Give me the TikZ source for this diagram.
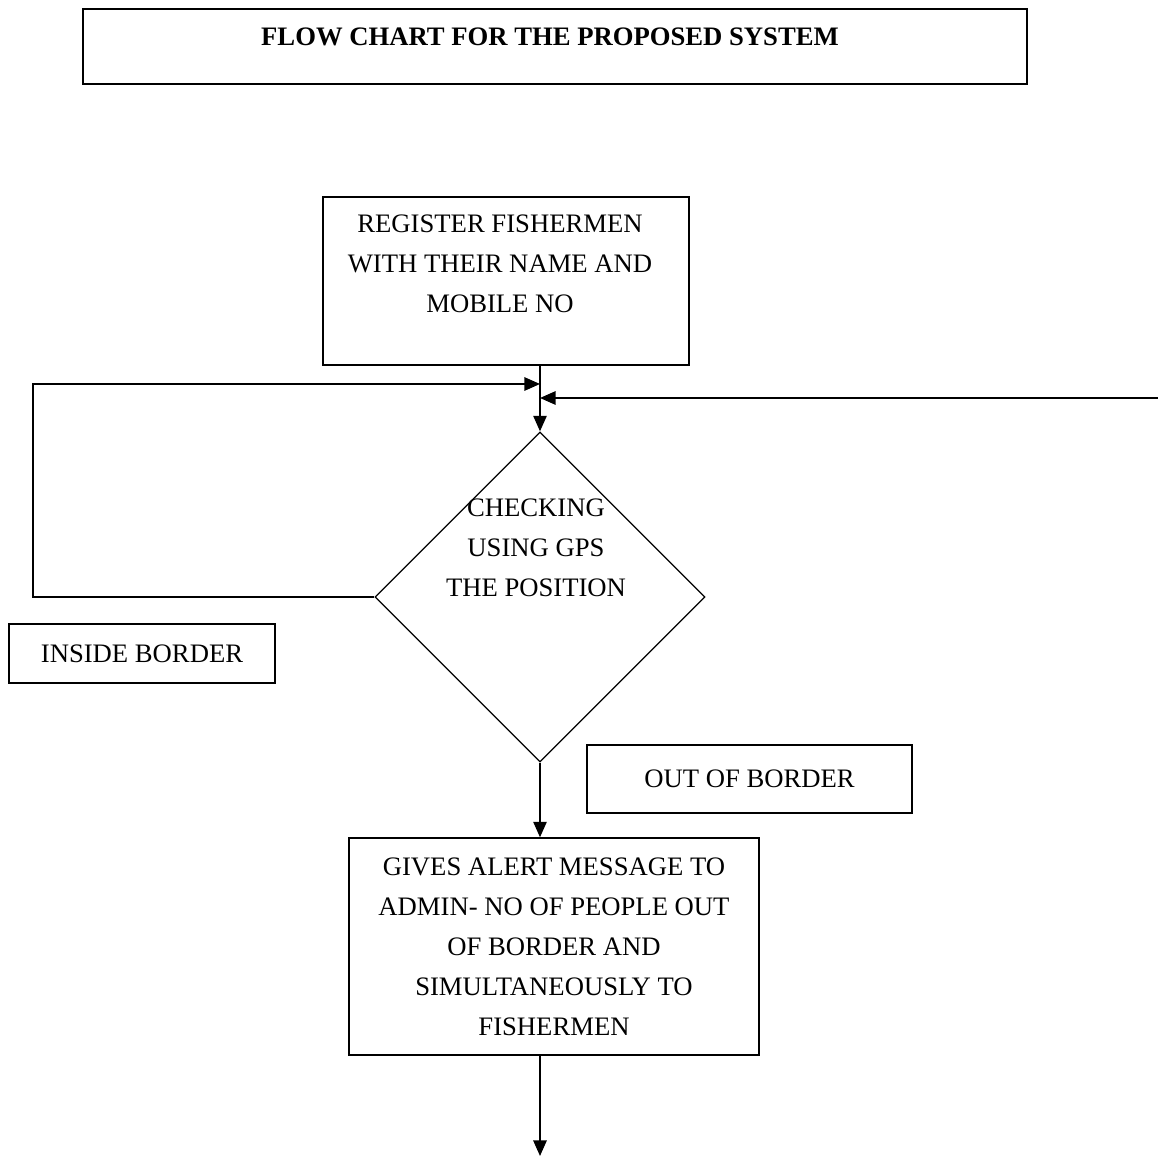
\documentclass[tikz,border=0pt]{standalone}
\usepackage{fontspec}
\setmainfont{Liberation Serif}
\usetikzlibrary{shapes.geometric,arrows.meta}
\newcommand{\px}{0.45pt}

\begin{document}
\begin{tikzpicture}[x=\px, y=-\px, >={Triangle[length=7pt,width=6pt]}]
  \tikzset{box/.style={draw, line width=0.6pt, inner sep=0pt, font=\fontsize{12pt}{18pt}\selectfont, align=center}}
  \tikzset{decision/.style={draw, diamond, aspect=1, line width=0.6pt, inner sep=0pt, minimum width=330*\px, minimum height=330*\px}}
  \tikzset{txt/.style={inner sep=0pt, font=\fontsize{12pt}{18pt}\selectfont, align=center}}
  \tikzset{flow/.style={->, line width=0.8pt}}
  \useasboundingbox (0,0) rectangle (1158,1156);
  \node[box, line width=0.8pt, minimum width=944*\px, minimum height=75*\px] (title) at (555,46.5) {};
  \node[txt, font=\fontsize{12pt}{18pt}\selectfont\bfseries] (titletext) at (550,37) {FLOW CHART FOR THE PROPOSED SYSTEM};
  \node[box, minimum width=366*\px, minimum height=168*\px] (register) at (506,281) {};
  \node[txt] (registertext) at (500,264) {REGISTER FISHERMEN\\WITH THEIR NAME AND\\MOBILE NO};
  \node[decision] (check) at (540,597) {};
  \node[txt] (checktext) at (536,548) {CHECKING\\USING GPS\\THE POSITION};
  \node[box, minimum width=266*\px, minimum height=59*\px] (inside) at (142,653.5) {INSIDE BORDER};
  \node[box, minimum width=325*\px, minimum height=68*\px] (outside) at (749.5,779) {OUT OF BORDER};
  \node[box, minimum width=410*\px, minimum height=217*\px] (alert) at (554,946.5) {GIVES ALERT MESSAGE TO\\ADMIN- NO OF PEOPLE OUT\\OF BORDER AND\\SIMULTANEOUSLY TO\\FISHERMEN};
  \coordinate (loopleft) at (33,384);
  \coordinate (loopright) at (1158,398);
  \coordinate (exit) at (540,1156);
  \draw[flow] (register.south -| check.north) -- (check.north);
  \draw[flow] (check.west) -| (loopleft) -- (loopleft -| check.north);
  \draw[flow] (loopright) -- (loopright -| check.north);
  \draw[flow] (check.south) -- (check.south |- alert.north);
  \draw[flow] (alert.south -| exit) -- (exit);
\end{tikzpicture}
\end{document}
